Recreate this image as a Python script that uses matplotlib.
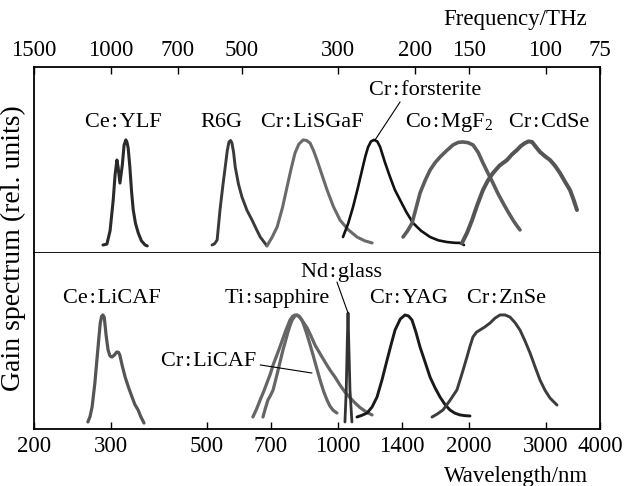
import matplotlib
matplotlib.use('Agg')
import matplotlib.pyplot as plt

plt.rcParams['font.family'] = ['Liberation Serif', 'DejaVu Serif']
plt.rcParams['mathtext.fontset'] = 'stix'

# wavelength ticks (nm) and frequency ticks (THz)
wl_ticks = [200, 300, 500, 700, 1000, 1400, 2000, 3000, 4000]
freq_ticks = [1500, 1000, 700, 500, 300, 200, 150, 100, 75]
C_NM_THZ = 299792.458

# ---- upper panel spectra: wavelength (nm), relative gain ----
ce_ylf_wl = [288, 294, 299, 304, 307, 310, 312, 315, 319, 322, 325, 327, 329, 332, 335, 338, 342, 347, 353, 360, 364]
ce_ylf_g = [0.043, 0.048, 0.12, 0.285, 0.42, 0.50, 0.46, 0.376, 0.473, 0.581, 0.608, 0.595, 0.565, 0.462, 0.33,
            0.231, 0.16, 0.108, 0.065, 0.043, 0.038]

r6g_wl = [513, 520, 527, 535, 543, 550, 556, 561, 566, 570, 575, 580, 590, 601, 617, 634, 648, 662, 675, 686]
r6g_g = [0.043, 0.050, 0.070, 0.231, 0.36, 0.462, 0.55, 0.597, 0.605, 0.591, 0.54, 0.462, 0.37, 0.301, 0.23,
         0.177, 0.13, 0.086, 0.06, 0.038]

lisgaf_wl = [686, 705, 724, 745, 763, 780, 796, 812, 831, 846, 862, 878, 894, 918, 943, 975, 1010, 1055, 1105,
             1150, 1197]
lisgaf_g = [0.038, 0.085, 0.140, 0.245, 0.355, 0.455, 0.538, 0.585, 0.608, 0.605, 0.591, 0.55, 0.50, 0.42, 0.339,
            0.25, 0.177, 0.125, 0.086, 0.066, 0.054]

forst_wl = [1026, 1055, 1082, 1110, 1135, 1155, 1172, 1190, 1209, 1230, 1249, 1280, 1316, 1350, 1388, 1435, 1487,
            1550, 1627, 1700, 1779, 1850, 1906, 1947]
forst_g = [0.086, 0.16, 0.247, 0.35, 0.446, 0.52, 0.570, 0.60, 0.608, 0.60, 0.570, 0.49, 0.409, 0.34, 0.285, 0.22,
           0.161, 0.12, 0.086, 0.068, 0.059, 0.055, 0.054, 0.043]

mgf2_wl = [1410, 1445, 1479, 1510, 1543, 1585, 1627, 1670, 1715, 1775, 1837, 1890, 1937, 1990, 2042, 2100, 2153,
           2210, 2270, 2330, 2394, 2460, 2524, 2570, 2619]
mgf2_g = [0.086, 0.12, 0.161, 0.24, 0.323, 0.39, 0.446, 0.485, 0.516, 0.55, 0.581, 0.595, 0.597, 0.593, 0.581,
          0.54, 0.484, 0.43, 0.376, 0.32, 0.269, 0.22, 0.177, 0.15, 0.124]

cdse_wl = [1927, 1980, 2032, 2090, 2153, 2210, 2270, 2350, 2445, 2510, 2578, 2630, 2689, 2740, 2791, 2850, 2912,
           2990, 3070, 3150, 3237, 3320, 3412, 3480, 3541]
cdse_g = [0.054, 0.11, 0.177, 0.26, 0.339, 0.39, 0.430, 0.47, 0.50, 0.53, 0.554, 0.575, 0.591, 0.60, 0.597, 0.57,
          0.543, 0.52, 0.50, 0.47, 0.430, 0.385, 0.339, 0.285, 0.231]

# ---- lower panel spectra ----
licaf_ce_wl = [266, 269, 272, 276, 279, 282, 284, 286, 288, 290, 291, 293, 296, 299, 302, 306, 310, 313, 315, 319,
               324, 330, 336, 341, 347, 352, 358]
licaf_ce_g = [0.040, 0.07, 0.125, 0.26, 0.392, 0.52, 0.602, 0.64, 0.648, 0.635, 0.602, 0.53, 0.449, 0.415, 0.409,
              0.42, 0.4375, 0.435, 0.420, 0.36, 0.295, 0.235, 0.182, 0.14, 0.108, 0.07, 0.034]

tisa_wl = [637, 650, 662, 675, 686, 698, 709, 722, 735, 747, 759, 767, 775, 786, 796, 807, 818, 833, 849, 866, 885,
           908, 933, 958, 984, 1010, 1037, 1065, 1094, 1123, 1153, 1175, 1197]
tisa_g = [0.068, 0.115, 0.165, 0.215, 0.261, 0.31, 0.364, 0.415, 0.466, 0.515, 0.5625, 0.59, 0.619, 0.640, 0.648,
          0.645, 0.631, 0.605, 0.574, 0.53, 0.477, 0.43, 0.381, 0.335, 0.295, 0.25, 0.210, 0.178, 0.148, 0.122,
          0.102, 0.09, 0.080]

licaf_cr_wl = [672, 681, 690, 699, 709, 718, 728, 737, 747, 757, 767, 776, 784, 795, 805, 815, 826, 837, 849, 862,
               876, 892, 909, 926, 943, 958, 973, 984, 994]
licaf_cr_g = [0.068, 0.12, 0.165, 0.19, 0.222, 0.275, 0.335, 0.39, 0.449, 0.50, 0.551, 0.59, 0.619, 0.640, 0.648,
              0.640, 0.619, 0.58, 0.534, 0.48, 0.420, 0.35, 0.278, 0.215, 0.165, 0.13, 0.108, 0.098, 0.091]

ndglass_wl = [1037, 1044, 1050, 1054, 1058, 1065, 1076]
ndglass_g = [0.040, 0.22, 0.50, 0.659, 0.50, 0.22, 0.040]

yag_wl = [1105, 1135, 1166, 1197, 1229, 1262, 1296, 1324, 1352, 1390, 1425, 1452, 1479, 1510, 1543, 1585, 1627,
          1670, 1715, 1760, 1808, 1855, 1906, 1955, 2010]
yag_g = [0.068, 0.078, 0.091, 0.125, 0.182, 0.28, 0.392, 0.48, 0.5625, 0.625, 0.648, 0.642, 0.619, 0.55, 0.466,
         0.38, 0.295, 0.235, 0.182, 0.14, 0.108, 0.09, 0.080, 0.076, 0.074]

znse_wl = [1644, 1690, 1742, 1805, 1876, 1930, 1978, 2010, 2042, 2080, 2119, 2175, 2235, 2295, 2356, 2420, 2484,
           2550, 2619, 2690, 2762, 2835, 2912, 2990, 3070, 3130, 3186]
znse_g = [0.068, 0.085, 0.108, 0.16, 0.222, 0.32, 0.409, 0.47, 0.523, 0.55, 0.5625, 0.58, 0.602, 0.63, 0.648,
          0.648, 0.636, 0.605, 0.5625, 0.50, 0.432, 0.355, 0.278, 0.22, 0.176, 0.155, 0.136]

HS = '\u200a'
fs = 16
fs_ax = 16.5

fig = plt.figure(figsize=(6.24, 4.86), dpi=100)
ax_top = fig.add_axes([34 / 624, 233 / 486, 566 / 624, 186 / 486])
ax_bot = fig.add_axes([34 / 624, 57 / 486, 566 / 624, 176 / 486])

for ax in (ax_top, ax_bot):
    ax.set_xscale('log')
    ax.set_xlim(200, 4000)
    ax.set_ylim(0, 1)
    ax.set_yticks([])
    ax.minorticks_off()
    for s in ax.spines.values():
        s.set_linewidth(1.3)

ax_bot.spines['top'].set_visible(False)

line_kw = dict(solid_capstyle='round', solid_joinstyle='round')

# upper curves
ax_top.plot(ce_ylf_wl, ce_ylf_g, color='#2a2a2a', lw=2.2, **line_kw)
ax_top.plot(r6g_wl, r6g_g, color='#3a3a3a', lw=2.1, **line_kw)
ax_top.plot(lisgaf_wl, lisgaf_g, color='#6a6a6a', lw=2.2, **line_kw)
ax_top.plot(forst_wl, forst_g, color='#111111', lw=1.9, **line_kw)
ax_top.plot(mgf2_wl, mgf2_g, color='#5c5c5c', lw=2.6, **line_kw)
ax_top.plot(cdse_wl, cdse_g, color='#555555', lw=2.9, **line_kw)

# lower curves
ax_bot.plot(licaf_ce_wl, licaf_ce_g, color='#555555', lw=2.3, **line_kw)
ax_bot.plot(tisa_wl, tisa_g, color='#666666', lw=2.3, **line_kw)
ax_bot.plot(licaf_cr_wl, licaf_cr_g, color='#666666', lw=2.3, **line_kw)
ax_bot.plot(ndglass_wl, ndglass_g, color='#333333', lw=2.0, **line_kw)
ax_bot.plot(yag_wl, yag_g, color='#1a1a1a', lw=2.1, **line_kw)
ax_bot.plot(znse_wl, znse_g, color='#3c3c3c', lw=2.1, **line_kw)


def lab(a, b):
    return a + HS + ':' + HS + b


# labels
top_labels = [(lab('Ce', 'YLF'), 320, 0.70),
              ('R6G', 538, 0.70),
              (lab('Cr', 'LiSGaF'), 871, 0.70),
              (lab('Cr', 'forsterite'), 1584, 0.876),
              (lab('Co', r'MgF$_\mathregular{2}$'), 1798, 0.70),
              (lab('Cr', 'CdSe'), 3054, 0.70)]
for txt, x, y in top_labels:
    ax_top.text(x, y, txt, ha='center', va='center', fontsize=fs)

bot_labels = [(lab('Ce', 'LiCAF'), 302, 0.744),
              (lab('Ti', 'sapphire'), 724, 0.744),
              (lab('Cr', 'LiCAF'), 505, 0.381),
              (lab('Nd', 'glass'), 1016, 0.892),
              (lab('Cr', 'YAG'), 1456, 0.744),
              (lab('Cr', 'ZnSe'), 2445, 0.744)]
for txt, x, y in bot_labels:
    ax_bot.text(x, y, txt, ha='center', va='center', fontsize=fs)

# leader lines
arrow_kw = dict(arrowstyle='-', lw=0.8, color='black', shrinkA=0, shrinkB=0)
ax_top.annotate('', xy=(1216, 0.608), xytext=(1388, 0.812), arrowprops=arrow_kw)
ax_bot.annotate('', xy=(871, 0.318), xytext=(662, 0.364), arrowprops=arrow_kw)
ax_bot.annotate('', xy=(1054, 0.659), xytext=(994, 0.835), arrowprops=arrow_kw)

# bottom wavelength axis
ax_bot.set_xticks(wl_ticks)
ax_bot.set_xticklabels([str(t) for t in wl_ticks])
ax_bot.tick_params(axis='x', direction='in', length=5, width=1, labelsize=fs_ax, pad=5)
ax_bot.minorticks_off()

# top frequency axis
ax_top.xaxis.tick_top()
ax_top.set_xticks([C_NM_THZ / f for f in freq_ticks])
ax_top.set_xticklabels([str(f) for f in freq_ticks])
ax_top.tick_params(axis='x', direction='in', length=5, width=1, labelsize=fs_ax, pad=4)
ax_top.minorticks_off()

fig.text(516 / 624, 1 - 476 / 486, 'Wavelength/nm', ha='center', va='center', fontsize=fs_ax)
fig.text(515 / 624, 1 - 19 / 486, 'Frequency/THz', ha='center', va='center', fontsize=fs_ax)
fig.text(13 / 624, 1 - 248 / 486, 'Gain spectrum (rel. units)', ha='center', va='center',
         rotation=90, fontsize=20)

fig.savefig('out.png', dpi=100)
